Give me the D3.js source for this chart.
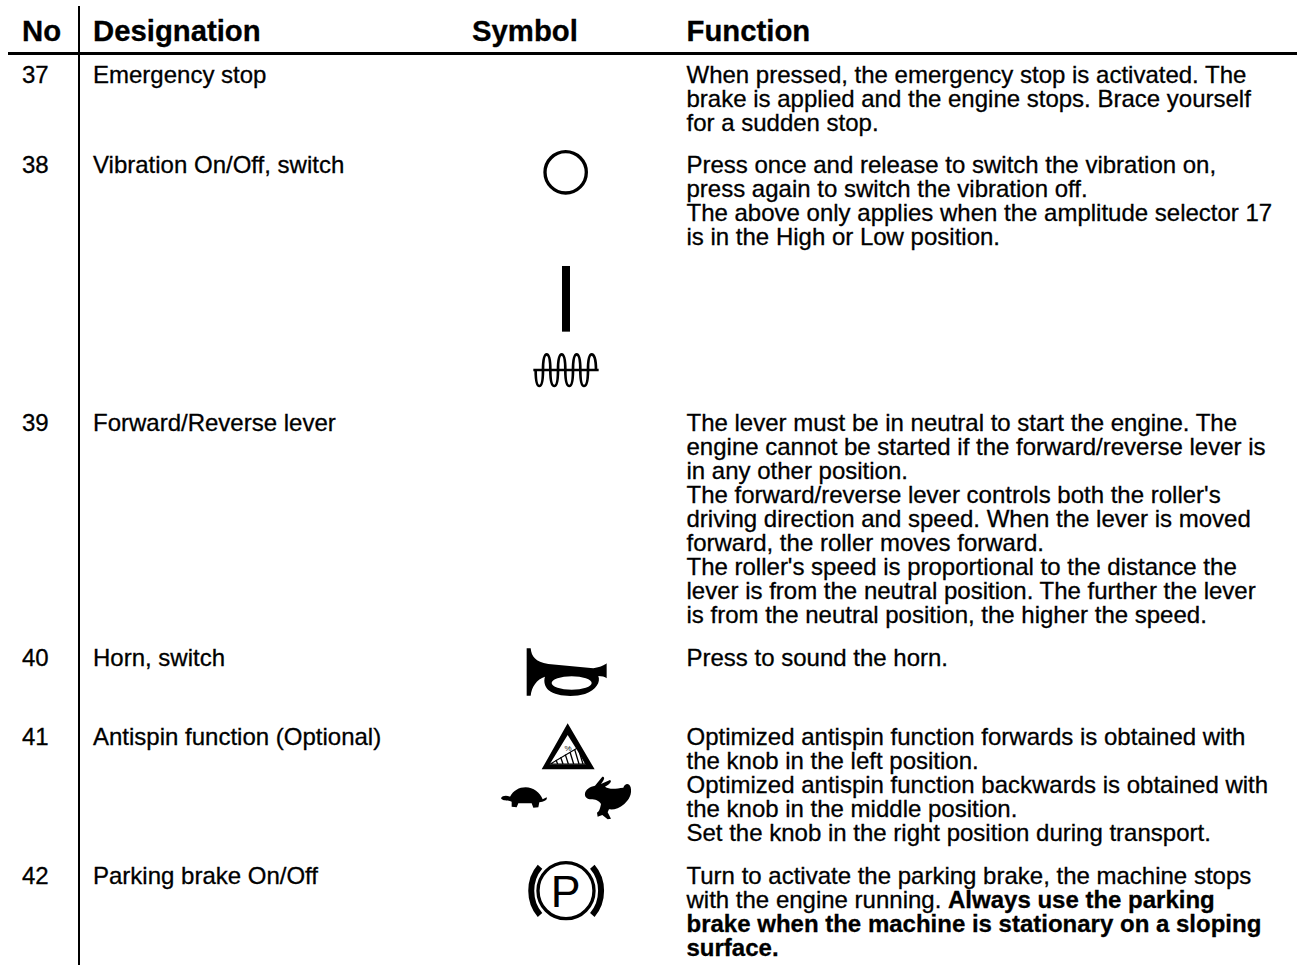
<!DOCTYPE html>
<html>
<head>
<meta charset="utf-8">
<style>
  html, body { margin: 0; padding: 0; background: #fff; }
  text { font-family: "Liberation Sans", Arial, sans-serif; fill: #000; }
  .head, .num, .desig, .func { stroke: #000; stroke-width: 0.3px; }
</style>
</head>
<body>
<script src="https://cdnjs.cloudflare.com/ajax/libs/d3/7.8.5/d3.min.js"></script>
<script>
var headers = ['No', 'Designation', 'Symbol', 'Function'];
var numbers = ['37', '38', '39', '40', '41', '42'];
var designations = [
  'Emergency stop',
  'Vibration On/Off, switch',
  'Forward/Reverse lever',
  'Horn, switch',
  'Antispin function (Optional)',
  'Parking brake On/Off'
];
// a line starting with * is bold, | splits regular from bold inside a line
var functions = [
  ['When pressed, the emergency stop is activated. The',
   'brake is applied and the engine stops. Brace yourself',
   'for a sudden stop.'],
  ['Press once and release to switch the vibration on,',
   'press again to switch the vibration off.',
   'The above only applies when the amplitude selector 17',
   'is in the High or Low position.'],
  ['The lever must be in neutral to start the engine. The',
   'engine cannot be started if the forward/reverse lever is',
   'in any other position.',
   "The forward/reverse lever controls both the roller's",
   'driving direction and speed. When the lever is moved',
   'forward, the roller moves forward.',
   "The roller's speed is proportional to the distance the",
   'lever is from the neutral position. The further the lever',
   'is from the neutral position, the higher the speed.'],
  ['Press to sound the horn.'],
  ['Optimized antispin function forwards is obtained with',
   'the knob in the left position.',
   'Optimized antispin function backwards is obtained with',
   'the knob in the middle position.',
   'Set the knob in the right position during transport.'],
  ['Turn to activate the parking brake, the machine stops',
   'with the engine running. |Always use the parking',
   '*brake when the machine is stationary on a sloping',
   '*surface.']
];

var w = 1298;
var h = 965;
var lineH = 24;

var svg = d3.select('body').append('svg')
  .attr('width', w)
  .attr('height', h)
  .style('display', 'block');

// column and row scales
var colX = d3.scaleOrdinal().domain(headers).range([22, 93, 472, 686.5]);
var rowY = d3.scaleOrdinal().domain(numbers).range([83, 173, 431, 666, 745, 884]);

svg.append('line')
  .attr('x1', 79).attr('x2', 79).attr('y1', 6).attr('y2', h)
  .attr('stroke', '#000').attr('stroke-width', 2);
svg.append('line')
  .attr('x1', 8).attr('x2', 1297).attr('y1', 53.5).attr('y2', 53.5)
  .attr('stroke', '#000').attr('stroke-width', 3);

svg.selectAll('.head')
  .data(headers)
  .enter()
  .append('text')
  .attr('class', 'head')
  .attr('x', function(d) { return colX(d); })
  .attr('y', 41)
  .attr('font-size', 29.3)
  .attr('font-weight', 'bold')
  .text(function(d) { return d; });

svg.selectAll('.num')
  .data(numbers)
  .enter()
  .append('text')
  .attr('class', 'num')
  .attr('x', colX('No'))
  .attr('y', function(d) { return rowY(d); })
  .attr('font-size', 24)
  .text(function(d) { return d; });

svg.selectAll('.desig')
  .data(designations)
  .enter()
  .append('text')
  .attr('class', 'desig')
  .attr('x', colX('Designation'))
  .attr('y', function(d, i) { return rowY(numbers[i]); })
  .attr('font-size', 24)
  .text(function(d) { return d; });

// function column, one text per line
functions.forEach(function(lines, i) {
  lines.forEach(function(line, j) {
    var t = svg.append('text')
      .attr('class', 'func')
      .attr('x', colX('Function'))
      .attr('y', rowY(numbers[i]) + j * lineH)
      .attr('font-size', 24);
    if (line.charAt(0) === '*') {
      t.attr('font-weight', 'bold').text(line.slice(1));
    } else {
      var parts = line.split('|');
      t.append('tspan').text(parts[0]);
      if (parts[1]) t.append('tspan').attr('font-weight', 'bold').text(parts[1]);
    }
  });
});

// symbols, local units are 1/3 px with the origin at the symbol's own corner
function symbol(no, dx, dy) {
  return svg.append('g')
    .attr('class', 'symbol')
    .attr('transform', 'translate(' + dx + ',' + (rowY(no) + dy) + ') scale(0.3333)');
}

// 38: off ring, on bar and vibration coil
var s38 = symbol('38', 510, -33);
s38.append('circle')
  .attr('cx', 167).attr('cy', 97).attr('r', 62)
  .attr('fill', 'none').attr('stroke', '#000').attr('stroke-width', 10);
s38.append('rect')
  .attr('x', 156).attr('y', 378).attr('width', 24).attr('height', 197);
s38.append('line')
  .attr('x1', 70).attr('x2', 266).attr('y1', 690).attr('y2', 690)
  .attr('stroke', '#000').attr('stroke-width', 7);
s38.append('path')
  .attr('fill', 'none').attr('stroke', '#000').attr('stroke-width', 8)
  .attr('d', 'M77,690 C77,725 81,738 88,738 C95,738 99,725 99,690 ' +
    'C99,655 103,643 110,643 C117,643 121,655 121,690 ' +
    'C121,725 126,738 133,738 C140,738 144,725 144,690 ' +
    'C144,655 148,643 155,643 C162,643 166,655 166,690 ' +
    'C166,725 171,738 178,738 C185,738 189,725 189,690 ' +
    'C189,655 193,643 200,643 C207,643 211,655 211,690 ' +
    'C211,725 215,738 222,738 C229,738 234,725 234,690 ' +
    'C234,655 238,643 245,643 C252,643 258,655 258,690');

// 40: horn
symbol('40', 490, -26).append('path')
  .attr('fill-rule', 'evenodd')
  .attr('d', 'M110,25 L122,25 C125,50 135,65 175,72 L310,85 C330,82 345,75 350,70 L350,115 ' +
    'C345,110 335,108 325,108 C332,125 320,150 285,162 C250,172 200,170 175,150 ' +
    'C165,140 160,125 165,110 C140,118 125,140 122,167 L110,167 Z ' +
    'M185,129 A60,20 0 1 0 305,129 A60,20 0 1 0 185,129 Z');

// 41: slope warning, turtle and rabbit
var s41 = symbol('41', 490, -105);
s41.append('path')
  .attr('fill-rule', 'evenodd')
  .attr('d', 'M233,250 L314,388 L155,388 Z M233,285 L179,373 L288,373 Z');
s41.append('path')
  .attr('d', 'M181,372 L262,324 L287,372 Z')
  .attr('fill', 'none').attr('stroke', '#000').attr('stroke-width', 3.5);
s41.append('path')
  .attr('stroke', '#000').attr('stroke-width', 4).attr('fill', 'none')
  .attr('d', 'M203,372L198,360 M219,372L212,352 M235,372L226,344 M251,372L240,336 M267,372L254,328 M279,372L268,336');
s41.append('text')
  .attr('x', 234).attr('y', 334)
  .attr('text-anchor', 'middle')
  .attr('font-size', 24)
  .text('%');

var animals = symbol('41', 495, 25);
animals.append('path')
  .attr('d', 'M18,85 C22,76 35,76 45,80 C55,62 72,52 92,52 C115,52 135,68 143,88 L155,82 ' +
    'C158,90 148,95 133,97 L130,112 L115,113 L110,100 L70,100 L65,112 L50,110 L50,95 C40,90 25,95 18,85 Z');
animals.append('path')
  .attr('d', 'M270,70 C272,58 285,50 300,47 L322,20 C330,20 330,27 318,42 L345,30 C352,34 345,42 330,50 ' +
    'C345,60 365,55 385,53 C390,40 402,38 407,52 C412,72 402,90 388,102 C372,116 356,120 342,118 ' +
    'L338,127 L348,146 L338,148 L322,135 L308,140 L306,128 C314,124 316,112 318,102 ' +
    'C312,92 300,88 288,88 C278,88 268,82 270,70 Z');

// 42: parking brake
var s42 = symbol('42', 510, -34);
s42.append('circle')
  .attr('cx', 168).attr('cy', 122).attr('r', 84)
  .attr('fill', 'none').attr('stroke', '#000').attr('stroke-width', 10);
s42.append('path')
  .attr('fill', 'none').attr('stroke', '#000').attr('stroke-width', 18)
  .attr('d', 'M90,50 C55,90 55,155 90,195 M247,50 C282,90 282,155 247,195');
s42.append('text')
  .attr('x', 122).attr('y', 170)
  .attr('font-size', 134)
  .text('P');
</script>
</body>
</html>
